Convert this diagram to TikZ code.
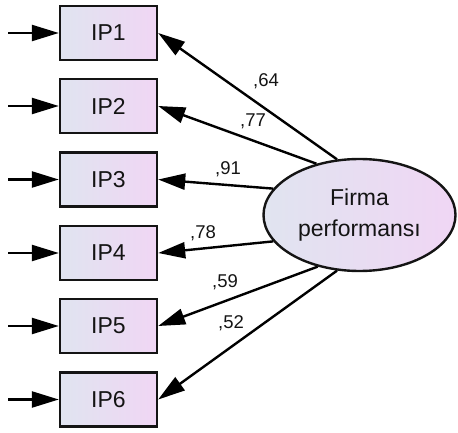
\documentclass[tikz,border=0pt]{standalone}
\usepackage{fontspec}
\setmainfont{Liberation Sans}
\usetikzlibrary{arrows.meta,shapes.geometric}
\definecolor{shadeL}{RGB}{224,228,240}
\definecolor{shadeR}{RGB}{240,214,244}
\definecolor{ink}{RGB}{20,20,20}
\tikzset{
  obs/.style={draw=ink,line width=2.4pt,rectangle,minimum width=97pt,minimum height=54pt,
    inner sep=0pt,left color=shadeL,right color=shadeR,
    font=\fontsize{23}{28}\selectfont,text=ink},
  latent/.style={draw=ink,line width=2.4pt,ellipse,minimum width=192pt,minimum height=112pt,
    inner sep=0pt,left color=shadeL,right color=shadeR,align=center,
    font=\fontsize{23}{31}\selectfont,text=ink},
  load/.style={line width=2.4pt,-{Triangle[length=27pt,width=16pt]}},
  coef/.style={anchor=base,font=\fontsize{18.5}{22}\selectfont,text=ink,inner sep=0pt}
}
\begin{document}
\begin{tikzpicture}[x=1pt,y=-1pt]
\useasboundingbox (0,0) rectangle (458,433);
% indicator boxes
\node[obs] (p1) at (108.5,33) {IP1};
\node[obs] (p2) at (108.5,106) {IP2};
\node[obs] (p3) at (108.5,179.5) {IP3};
\node[obs] (p4) at (108.5,253) {IP4};
\node[obs] (p5) at (108.5,326) {IP5};
\node[obs] (p6) at (108.5,399.5) {IP6};
% latent factor
\node[latent] (f) at (359.5,215) {Firma\\performansı};
% error-term stubs
\foreach \i/\y in {1/33,2/106,3/179.5,4/253,5/326,6/399.5}{
  \coordinate (e\i) at (8,\y);
  \draw[load] (e\i) -- (p\i.west);
}
% factor loadings
\draw[load] (f.112) -- (p1.east);
\draw[load] (f.130) -- (p2.east);
\draw[load] (f.163) -- (p3.east);
\draw[load] (f.197) -- (p4.east);
\draw[load] (f.231) -- (p5.east);
\draw[load] (f.248) -- (p6.east);
% loading values
\node[coef] (c1) at (266,87) {,64};
\node[coef] (c2) at (253,127) {,77};
\node[coef] (c3) at (228,175) {,91};
\node[coef] (c4) at (203,238) {,78};
\node[coef] (c5) at (225,287) {,59};
\node[coef] (c6) at (231,328) {,52};
\end{tikzpicture}
\end{document}
